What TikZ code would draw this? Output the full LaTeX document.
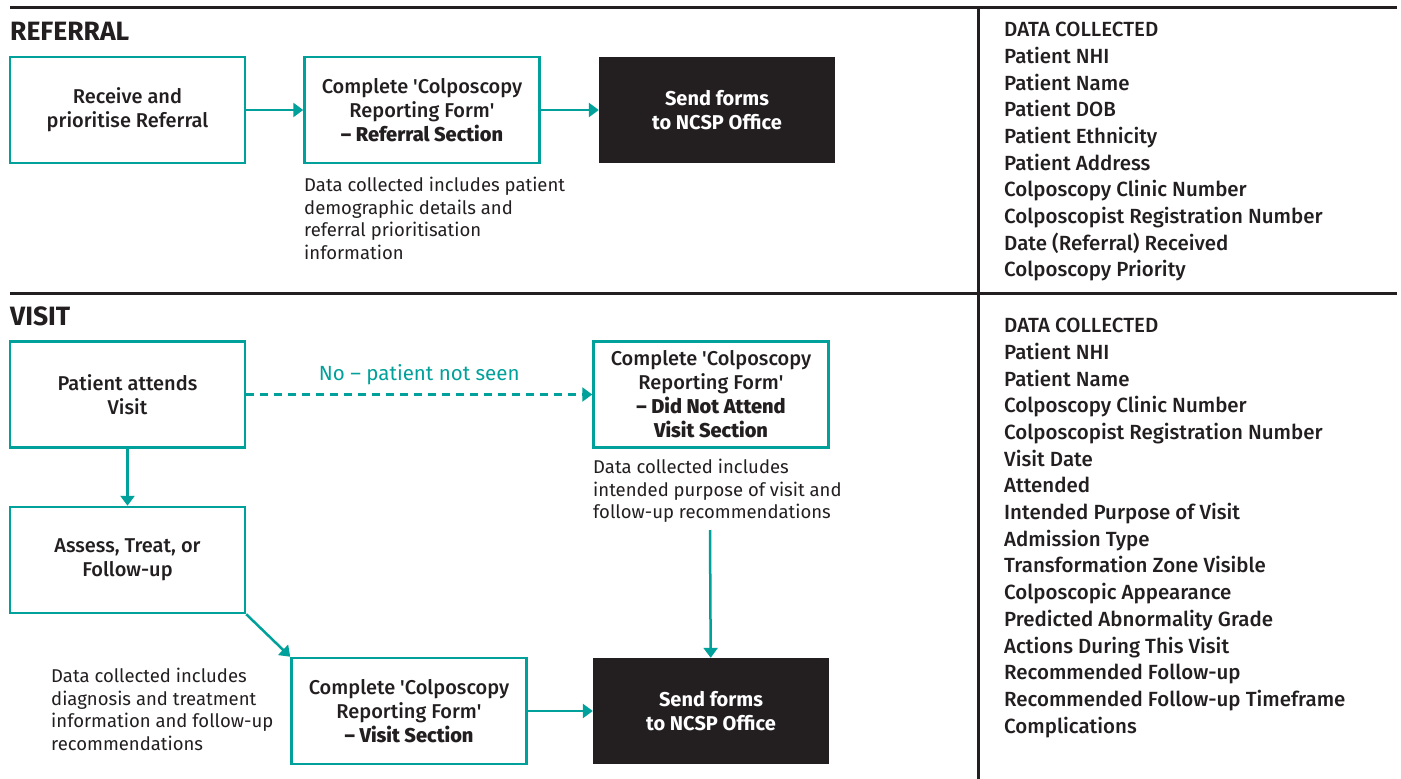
\documentclass[tikz,border=0pt]{standalone}
\usepackage{fontspec}
\setmainfont{Fira Sans}
\newfontfamily\medfont{Fira Sans Medium}
\usetikzlibrary{arrows.meta,positioning}

\definecolor{ncspteal}{HTML}{00A19A}
\definecolor{ncspdark}{HTML}{231F20}

\tikzset{
  stepbox/.style={draw=ncspteal, line width=2.5pt, minimum width=235pt, minimum height=106pt,
    align=center, inner sep=0pt, text=ncspdark, font=\medfont\fontsize{20}{24}\selectfont},
  sendbox/.style={fill=ncspdark, minimum width=236pt, minimum height=106pt,
    align=center, inner sep=0pt, text=white, font=\bfseries\fontsize{20}{24}\selectfont},
  flow/.style={draw=ncspteal, line width=2.5pt, -{Triangle[length=10pt,width=14pt]}},
  note/.style={anchor=north west, align=left, inner sep=0pt, text=ncspdark,
    font=\fontsize{18.5}{22.5}\selectfont},
  heading/.style={anchor=base west, inner sep=0pt, text=ncspdark,
    font=\bfseries\fontsize{26.5}{30}\selectfont},
  datalist/.style={anchor=north west, align=left, inner sep=0pt, text=ncspdark,
    font=\medfont\fontsize{20.5}{26.7}\selectfont},
  rule/.style={draw=ncspdark, line width=3pt}
}

\newcommand{\sq}{\textquotesingle}

\begin{document}
\begin{tikzpicture}[x=1pt, y=-1pt]
        \useasboundingbox[fill=white] (0,0) rectangle (1401,779);

        % rules
        \draw[rule] (10,7) -- (1397,7);
        \draw[rule] (10,293) -- (1397,293);
        \draw[rule] (978,7) -- (978,779);

        % referral
        \node[heading] (refhead) at (10,40) {REFERRAL};
        \node[stepbox] (receive) at (127.5,110) {Receive and\\prioritise Referral};
        \node[stepbox] (refform) at (422,110) {Complete \sq Colposcopy\\Reporting Form\sq\\\textbf{– Referral Section}};
        \node[sendbox] (refsend) at (717,110) {Send forms\\to NCSP Office};
        \node[note] (refnote) at (304,177) {Data collected includes patient\\demographic details and\\referral prioritisation\\information};
        \draw[flow] (receive) -- (refform);
        \draw[flow] (refform) -- (refsend);

        % referral data
        \node[datalist] (refdata) at (1004,22) {DATA COLLECTED\\Patient NHI\\Patient Name\\Patient DOB\\Patient Ethnicity\\Patient Address\\Colposcopy Clinic Number\\Colposcopist Registration Number\\Date (Referral) Received\\Colposcopy Priority};

        % visit
        \node[heading] (visithead) at (10,325) {VISIT};
        \node[stepbox] (attend) at (127.5,394.5) {Patient attends\\Visit};
        \node[stepbox] (dnaform) at (711,394.5) {Complete \sq Colposcopy\\Reporting Form\sq\\\textbf{– Did Not Attend}\\\textbf{Visit Section}};
        \node[note] (dnanote) at (593,459) {Data collected includes\\intended purpose of visit and\\follow-up recommendations};
        \node[stepbox] (assess) at (127.5,560) {Assess, Treat, or\\Follow-up};
        \node[stepbox] (visitform) at (409,711) {Complete \sq Colposcopy\\Reporting Form\sq\\\textbf{– Visit Section}};
        \node[sendbox] (visitsend) at (711,711) {Send forms\\to NCSP Office};
        \node[note] (assessnote) at (51,668) {Data collected includes\\diagnosis and treatment\\information and follow-up\\recommendations};
        \coordinate (dnadrop) at (710,530);

        \draw[flow, dash pattern=on 8pt off 6pt] (attend) -- node[above=8pt, inner sep=0pt, text=ncspteal, font=\fontsize{20.5}{24}\selectfont] (notseen) {No – patient not seen} (dnaform);
        \draw[flow] (attend) -- (assess);
        \draw[flow] (assess.south east) -- (visitform.north west);
        \draw[flow] (visitform) -- (visitsend);
        \draw[flow] (dnadrop) -- (visitsend);

        % visit data
        \node[datalist] (visitdata) at (1004,318) {DATA COLLECTED\\Patient NHI\\Patient Name\\Colposcopy Clinic Number\\Colposcopist Registration Number\\Visit Date\\Attended\\Intended Purpose of Visit\\Admission Type\\Transformation Zone Visible\\Colposcopic Appearance\\Predicted Abnormality Grade\\Actions During This Visit\\Recommended Follow-up\\Recommended Follow-up Timeframe\\Complications};

      \end{tikzpicture}
\end{document}
